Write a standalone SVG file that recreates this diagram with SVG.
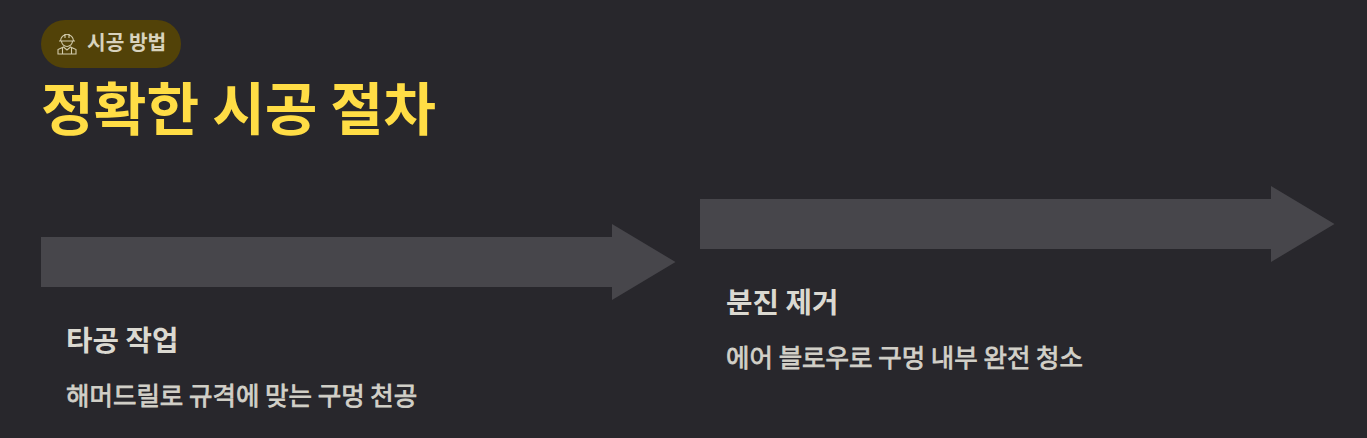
<svg xmlns="http://www.w3.org/2000/svg" width="1367" height="438" viewBox="0 0 1367 438">
<style>
text{font-family:"Noto Sans CJK KR","Noto Sans",sans-serif}
.arrow{fill:#47464b}
.head{font-size:28.800px;font-weight:700;fill:#dbd9d1}
.desc{font-size:25.500px;font-weight:400;fill:#d2d0c8;stroke:#d2d0c8;stroke-width:.8}
.hat{fill:none;stroke:#d2cbac;stroke-width:1.1}
</style>
<rect width="1367" height="438" fill="#28272c"/>
<g id="badge">
<rect x="41" y="20" width="140" height="48" rx="24" fill="#524208"/>
<g class="hat">
<path d="M60.500 41a6.500 6.500 0 0 1 13 0M59 41h16M61.500 41a5.500 5.500 0 0 0 11 0M65 34v4M69 34v4"/>
<path d="M58 54v-4.500l5.500-2.500 3.500 3 3.500-3 5.500 2.500V54ZM62.500 48V54M71.500 48V54"/>
</g>
<text x="87" y="50" font-size="20.300" font-weight="700" fill="#d8d3bd">시공 방법</text>
</g>
<text id="title" x="41" y="130" font-size="57.300" font-weight="700" fill="#ffdd45">정확한 시공 절차</text>
<g id="connectors"></g>
<g id="step1">
<path class="arrow" d="M41 237H612V224L675.500 262 612 300V287H41Z"/>
<text class="head" x="66" y="351">타공 작업</text>
<text class="desc" x="66" y="405">해머드릴로 규격에 맞는 구멍 천공</text>
</g>
<g id="step2">
<path class="arrow" d="M700 199H1271V186L1334.500 224 1271 262V249H700Z"/>
<text class="head" x="726" y="313">분진 제거</text>
<text class="desc" x="726" y="367">에어 블로우로 구멍 내부 완전 청소</text>
</g>
</svg>
